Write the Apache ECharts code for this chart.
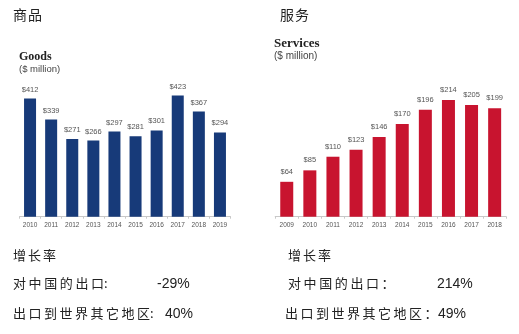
<!DOCTYPE html>
<html>
<head>
<meta charset="utf-8">
<script src="https://cdn.jsdelivr.net/npm/echarts@6/dist/echarts.min.js"></script>
<style>
  html, body { margin: 0; padding: 0; background: #ffffff; }
  #chart { width: 519px; height: 334px; }
</style>
</head>
<body>
<div id="chart"></div>
<script>
// Goods exports ($ million)
const goodsYears = ['2010', '2011', '2012', '2013', '2014', '2015', '2016', '2017', '2018', '2019'];
const goodsValues = [412, 339, 271, 266, 297, 281, 301, 423, 367, 294];

// Services exports ($ million)
const serviceYears = ['2009', '2010', '2011', '2012', '2013', '2014', '2015', '2016', '2017', '2018'];
const serviceValues = [64, 85, 110, 123, 146, 170, 196, 214, 205, 199];

// Growth-rate notes under each panel
const goodsGrowth = { china: '-29%', world: '40%' };
const serviceGrowth = { china: '214%', world: '49%' };

const CJK = '"Noto Sans CJK SC", sans-serif';
const SANS = '"Liberation Sans", Arial, sans-serif';
const SERIF = '"Liberation Serif", "Times New Roman", serif';

function txt(x, y, text, font, size, color, weight) {
  return {
    type: 'text', left: x, top: y,
    style: { text: text, font: (weight || 'normal') + ' ' + size + 'px ' + font, fill: color || '#222' }
  };
}

// CJK line with wide, even character spacing: one text element per character;
// a half-width colon stays attached to the character before it
function spaced(x, y, text, size, advance, color) {
  const units = [];
  Array.from(text).forEach(ch => {
    if (ch === ':' && units.length) units[units.length - 1] += ch;
    else units.push(ch);
  });
  return {
    type: 'group', left: x, top: y,
    children: units.map((u, i) => ({
      type: 'text', x: i * advance, y: 0,
      style: { text: u, font: 'normal ' + size + 'px ' + CJK, fill: color || '#222' }
    }))
  };
}

function xAxisFor(gridIndex, data) {
  return {
    type: 'category', gridIndex: gridIndex, data: data,
    axisLine: { lineStyle: { color: '#c8c8c8', width: 1 } },
    axisTick: { show: true, length: 2, lineStyle: { color: '#c8c8c8' } },
    axisLabel: { color: '#555', fontSize: 6.5, fontFamily: SANS, margin: 5 }
  };
}

function yAxisFor(gridIndex, max) {
  return {
    type: 'value', gridIndex: gridIndex, min: 0, max: max, show: false,
    splitLine: { show: false }
  };
}

const chart = echarts.init(document.getElementById('chart'), null, { renderer: 'canvas' });

chart.setOption({
  animation: false,
  backgroundColor: '#ffffff',
  grid: [
    { left: 19.5, width: 211, top: 87.7, height: 129 },
    { left: 275.2, width: 231, top: 80.4, height: 136.3 }
  ],
  xAxis: [xAxisFor(0, goodsYears), xAxisFor(1, serviceYears)],
  yAxis: [yAxisFor(0, 450), yAxisFor(1, 250)],
  series: [
    {
      type: 'bar', xAxisIndex: 0, yAxisIndex: 0, data: goodsValues,
      barWidth: 12,
      itemStyle: { color: '#173a79' },
      label: {
        show: true, position: 'top', distance: 5,
        formatter: p => '$' + p.value,
        color: '#555', fontSize: 7.5, fontFamily: SANS
      }
    },
    {
      type: 'bar', xAxisIndex: 1, yAxisIndex: 1, data: serviceValues,
      barWidth: 13,
      itemStyle: { color: '#c8142f' },
      label: {
        show: true, position: 'top', distance: 6,
        formatter: p => '$' + p.value,
        color: '#555', fontSize: 7.5, fontFamily: SANS
      }
    }
  ],
  graphic: [
    // panel headings
    spaced(13, 8, '商品', 14, 15),
    spaced(280, 8, '服务', 14, 15),
    txt(19, 51, 'Goods', SERIF, 12, '#222', 'bold'),
    txt(19, 64, '($ million)', SANS, 9.5, '#444'),
    txt(274, 37, 'Services', SERIF, 13, '#222', 'bold'),
    txt(274, 51.5, '($ million)', SANS, 10, '#444'),

    // growth notes, goods
    spaced(13, 249, '增长率', 13, 15),
    spaced(13, 277, '对中国的出口:', 13, 15.6),
    txt(157, 277, goodsGrowth.china, SANS, 14, '#222'),
    spaced(13, 307, '出口到世界其它地区:', 13, 15.5),
    txt(165, 307, goodsGrowth.world, SANS, 14, '#222'),

    // growth notes, services
    spaced(288, 249, '增长率', 13, 15),
    spaced(288, 277, '对中国的出口：', 13, 15.6),
    txt(437, 277, serviceGrowth.china, SANS, 14, '#222'),
    spaced(285, 307, '出口到世界其它地区：', 13, 15.5),
    txt(438, 307, serviceGrowth.world, SANS, 14, '#222')
  ]
});
</script>
</body>
</html>
